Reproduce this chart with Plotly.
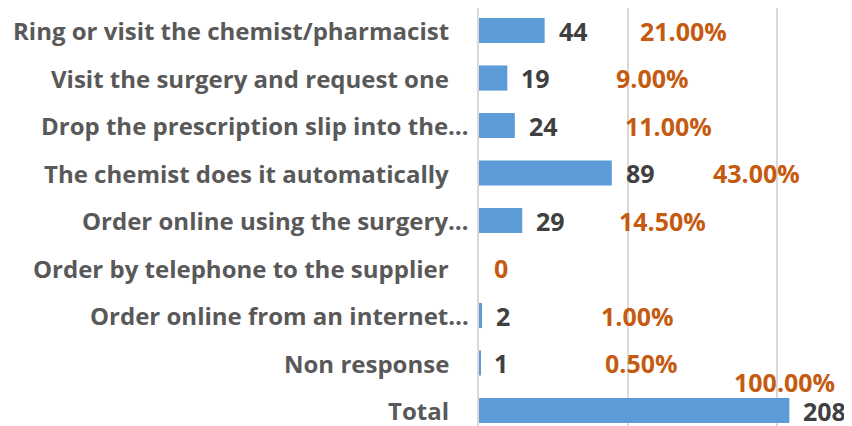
import plotly.graph_objects as go

categories = [
    "Ring or visit the chemist/pharmacist",
    "Visit the surgery and request one",
    "Drop the prescription slip into the…",
    "The chemist does it automatically",
    "Order online using the surgery…",
    "Order by telephone to the supplier",
    "Order online from an internet…",
    "Non response",
    "Total",
]
counts = [44, 19, 24, 89, 29, 0, 2, 1, 208]
count_labels = ["44", "19", "24", "89", "29", "", "2", "1", "208"]
pct_labels = ["21.00%", "9.00%", "11.00%", "43.00%", "14.50%", "0", "1.00%", "0.50%", "100.00%"]
pct_label_x = [137, 116, 127, 186, 123, 15, 106, 109, 205]

FONT = "Open Sans"

fig = go.Figure()
fig.add_trace(go.Bar(
    y=categories, x=counts, orientation="h",
    marker=dict(color="#5A9BD8", line=dict(width=0)),
    width=0.53, hoverinfo="skip",
))

annotations = []
# category labels (truncated labels sit a little further right, as in the source)
for cat in categories:
    annotations.append(dict(
        x=0, y=cat, xref="x", yref="y", text=cat,
        showarrow=False, xanchor="right",
        xshift=-8 if cat.endswith("…") else -28,
        font=dict(family=FONT, size=24, color="#595959", weight="bold"),
    ))
for i, (c, lab) in enumerate(zip(counts, count_labels)):
    if lab:
        annotations.append(dict(
            x=c, y=categories[i], xref="x", yref="y", text=lab,
            showarrow=False, xanchor="left", xshift=12,
            font=dict(family=FONT, size=25, color="#404040", weight="bold"),
        ))
for i, (px, lab) in enumerate(zip(pct_label_x, pct_labels)):
    annotations.append(dict(
        x=px, y=categories[i], xref="x", yref="y", text=lab,
        showarrow=False, xanchor="center",
        yshift=29 if i == len(categories) - 1 else 0,
        font=dict(family=FONT, size=25, color="#C55A11", weight="bold"),
    ))

fig.update_layout(
    width=844, height=418,
    margin=dict(l=471, r=0, t=0, b=0),
    paper_bgcolor="white", plot_bgcolor="white",
    showlegend=False,
    annotations=annotations,
    xaxis=dict(range=[0, 250], dtick=100, showgrid=True, gridcolor="#D9D9D9",
               gridwidth=2, zeroline=False, showticklabels=False, ticks="",
               automargin=False),
    yaxis=dict(range=[8.326, -0.474], showgrid=False, zeroline=False, ticks="",
               showticklabels=False, showline=True, linecolor="#D9D9D9", linewidth=2,
               automargin=False),
)
fig.write_html("out.html")
